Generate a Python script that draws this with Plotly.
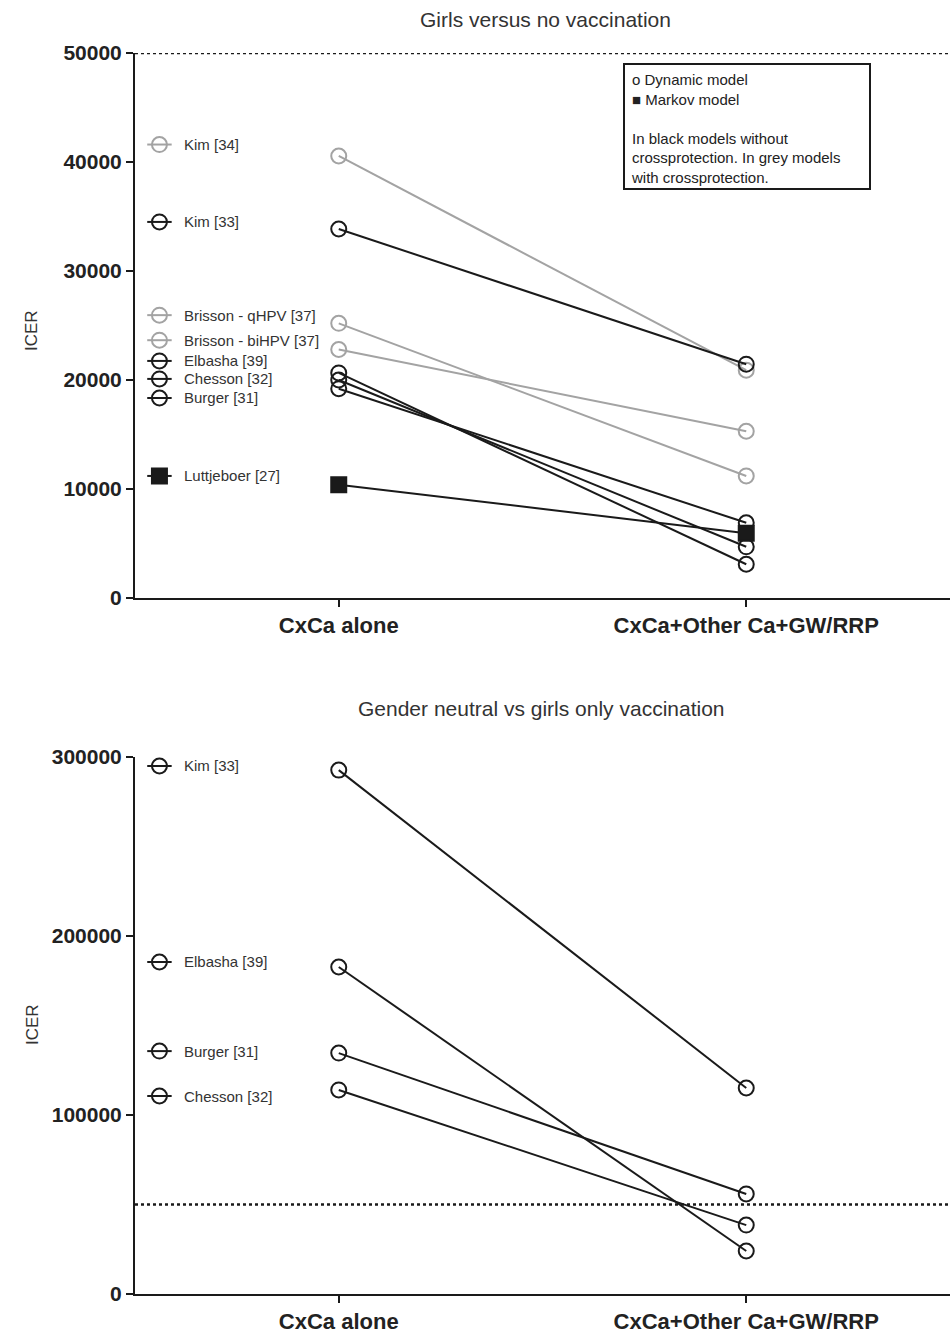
import plotly.graph_objects as go

# ---------------- data ----------------
categories = ["CxCa alone", "CxCa+Other Ca+GW/RRP"]

# Top panel: Girls versus no vaccination
top_names = ["Kim [34]", "Kim [33]", "Brisson - qHPV [37]", "Brisson - biHPV [37]",
             "Elbasha [39]", "Chesson [32]", "Burger [31]", "Luttjeboer [27]"]
top_cxca = [40550, 33850, 25200, 22800, 20650, 20000, 19200, 10400]
top_all = [20900, 21450, 11200, 15300, 3100, 4700, 6900, 5950]
top_grey = [True, False, True, True, False, False, False, False]
top_markov = [False, False, False, False, False, False, False, True]
top_label_y = [41600, 34500, 25950, 23650, 21750, 20100, 18350, 11200]

# Bottom panel: Gender neutral vs girls only vaccination
bot_names = ["Kim [33]", "Elbasha [39]", "Burger [31]", "Chesson [32]"]
bot_cxca = [292700, 182700, 134600, 114000]
bot_all = [115100, 24000, 55900, 38500]
bot_label_y = [295000, 185500, 135700, 110600]

threshold = 50000

top_ticks = [0, 10000, 20000, 30000, 40000, 50000]
bot_ticks = [0, 100000, 200000, 300000]

# ---------------- styling ----------------
BLACK = "#1a1a1a"
GREY = "#a3a3a3"
FONT = "Liberation Sans, Arial, sans-serif"
X_CAT = [1, 2]
GLYPH_X = 0.56
GLYPH_HALF = 0.03
LABEL_X = 0.615

fig = go.Figure()


def add_panel(names, v1, v2, greys, markov, label_y, xa, ya):
    for i, name in enumerate(names):
        col = GREY if greys[i] else BLACK
        sym = "square" if markov[i] else "circle-open"
        msize = 15
        fig.add_trace(go.Scatter(
            x=X_CAT, y=[v1[i], v2[i]], mode="lines+markers",
            line=dict(color=col, width=2),
            marker=dict(symbol=sym, size=msize, color=col,
                        line=dict(color=col, width=2)),
            xaxis=xa, yaxis=ya, showlegend=False, name=name))
        # legend glyph: short line with marker
        fig.add_trace(go.Scatter(
            x=[GLYPH_X - GLYPH_HALF, GLYPH_X + GLYPH_HALF], y=[label_y[i]] * 2,
            mode="lines", line=dict(color=col, width=2),
            xaxis=xa, yaxis=ya, showlegend=False, hoverinfo="skip"))
        fig.add_trace(go.Scatter(
            x=[GLYPH_X], y=[label_y[i]], mode="markers",
            marker=dict(symbol=sym, size=msize, color=col,
                        line=dict(color=col, width=2)),
            xaxis=xa, yaxis=ya, showlegend=False, hoverinfo="skip"))
        fig.add_annotation(x=LABEL_X, y=label_y[i], xref=xa, yref=ya,
                           text=name, showarrow=False, xanchor="left",
                           yanchor="middle",
                           font=dict(family=FONT, size=15, color="#333333"))


add_panel(top_names, top_cxca, top_all, top_grey, top_markov, top_label_y, "x", "y")
add_panel(bot_names, bot_cxca, bot_all, [False] * 4, [False] * 4, bot_label_y, "x2", "y2")

# threshold dotted lines
for xa, ya in (("x", "y"), ("x2", "y2")):
    fig.add_shape(type="line", xref=xa + " domain", yref=ya, x0=0, x1=1,
                  y0=threshold, y1=threshold,
                  line=dict(color=BLACK, width=2.5, dash="dot"))

axis_common = dict(
    showgrid=False, zeroline=False, showline=True, linecolor=BLACK, linewidth=2,
    ticks="outside", tickcolor=BLACK, tickwidth=2, automargin=False,
)
tickfont = dict(family=FONT, size=21, color="#222222", weight="bold")
xcommon = dict(axis_common, range=[0.5, 2.5], tickvals=X_CAT, ticktext=categories,
               ticklen=7, tickfont=dict(tickfont, size=22),
               domain=[0.1421, 1.0])

fig.update_layout(
    width=950, height=1334,
    margin=dict(l=0, r=0, t=0, b=0, autoexpand=False),
    paper_bgcolor="white", plot_bgcolor="white",
    font=dict(family=FONT),
    xaxis=dict(xcommon, anchor="y"),
    xaxis2=dict(xcommon, anchor="y2"),
    yaxis=dict(axis_common, range=[0, 50000], domain=[0.5517, 0.9603],
               tickvals=top_ticks, ticktext=[str(v) for v in top_ticks],
               ticklen=7, anchor="x", tickfont=tickfont),
    yaxis2=dict(axis_common, range=[0, 300000], domain=[0.0300, 0.4325],
                tickvals=bot_ticks, ticktext=[str(v) for v in bot_ticks],
                ticklen=7, anchor="x2", tickfont=tickfont),
)

# panel titles and axis titles
fig.add_annotation(x=545 / 950, y=1 - 20 / 1334, xref="paper", yref="paper",
                   text="Girls versus no vaccination", showarrow=False,
                   xanchor="center", yanchor="middle",
                   font=dict(family=FONT, size=21, color="#333333"))
fig.add_annotation(x=541 / 950, y=1 - 708 / 1334, xref="paper", yref="paper",
                   text="Gender neutral vs girls only vaccination", showarrow=False,
                   xanchor="center", yanchor="middle",
                   font=dict(family=FONT, size=21, color="#333333"))
for yc in (331, 1025):
    fig.add_annotation(x=32 / 950, y=1 - yc / 1334, xref="paper", yref="paper",
                       text="ICER", showarrow=False, textangle=-90,
                       xanchor="center", yanchor="middle",
                       font=dict(family=FONT, size=17, color="#333333"))

# model explanation box
box_lines = ("o Dynamic model<br>\u25a0 Markov model<br><br>"
             "In black models without<br>crossprotection. In grey models<br>"
             "with crossprotection.")
fig.add_shape(type="rect", xref="paper", yref="paper",
              x0=624 / 950, x1=870 / 950, y0=1 - 189 / 1334, y1=1 - 64 / 1334,
              line=dict(color=BLACK, width=2), fillcolor="white", layer="above")
fig.add_annotation(x=629 / 950, y=1 - 69 / 1334, xref="paper", yref="paper",
                   text=box_lines, showarrow=False, xanchor="left", yanchor="top",
                   align="left",
                   font=dict(family=FONT, size=15, color="#222222"))

fig.write_html("out.html")
